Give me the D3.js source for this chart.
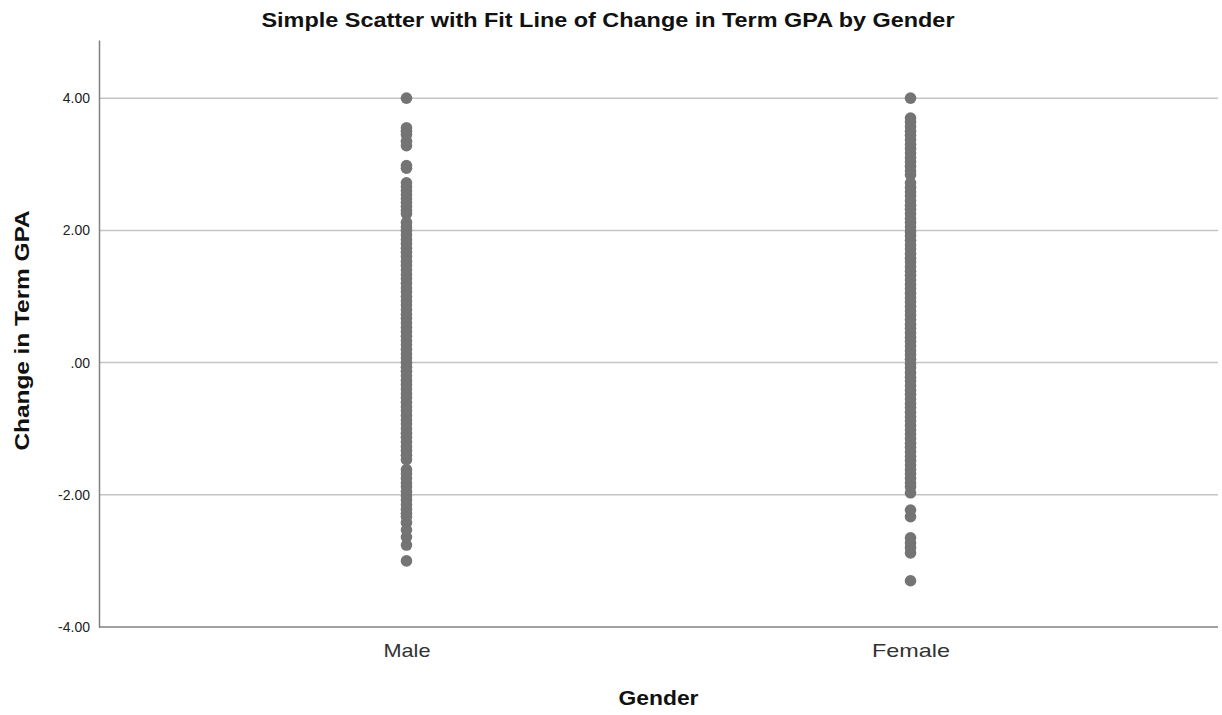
<!DOCTYPE html>
<html>
<head>
<meta charset="utf-8">
<script src="https://cdn.jsdelivr.net/npm/d3@7"></script>
<style>
  body { margin: 0; background: #fff; }
  svg { display: block; font-family: "Liberation Sans", Arial, sans-serif; }
</style>
</head>
<body>
<svg id="chart" width="1222" height="715"></svg>
<script>
const categories = ["Male", "Female"]

const maleValues = [
  4.00,
  3.55, 3.50, 3.45, 3.35, 3.28,
  2.98, 2.94,
  2.72, 2.66, 2.60, 2.54, 2.48, 2.42, 2.36, 2.30, 2.25, 2.12,
  2.05, 2.00, 1.93, 1.86, 1.80, 1.73, 1.67, 1.60, 1.53, 1.47, 1.40, 1.33, 1.27, 1.20,
  1.13, 1.07, 1.00, 0.93, 0.87, 0.80, 0.73, 0.67, 0.60, 0.53, 0.47, 0.40, 0.33, 0.27,
  0.20, 0.13, 0.07, 0.00, -0.07, -0.13, -0.20, -0.27, -0.33, -0.40, -0.47, -0.53,
  -0.60, -0.67, -0.73, -0.80, -0.87, -0.93, -1.00, -1.07, -1.13, -1.20, -1.27, -1.33,
  -1.40, -1.47,
  -1.62, -1.68, -1.75, -1.82, -1.88, -1.95, -2.02, -2.08, -2.15, -2.22, -2.28, -2.33,
  -2.42, -2.53, -2.64, -2.76,
  -3.00
]

const femaleValues = [
  4.00,
  3.70, 3.64, 3.57, 3.50, 3.44, 3.37, 3.30, 3.24, 3.17, 3.10, 3.04, 2.97, 2.90, 2.84,
  2.72, 2.65, 2.58, 2.52, 2.45, 2.38, 2.32, 2.25, 2.18, 2.12,
  2.05, 1.98, 1.92, 1.85, 1.78, 1.72, 1.65, 1.58, 1.52, 1.45, 1.38, 1.32, 1.25, 1.18,
  1.12, 1.05, 0.98, 0.92, 0.85, 0.78, 0.72, 0.65, 0.58, 0.52, 0.45, 0.38, 0.32, 0.25,
  0.18, 0.12, 0.05, -0.02, -0.08, -0.15, -0.22, -0.28, -0.35, -0.42, -0.48, -0.55,
  -0.62, -0.68, -0.75, -0.82, -0.88, -0.95, -1.02, -1.08, -1.15, -1.22, -1.28, -1.35,
  -1.42, -1.48, -1.55, -1.62, -1.68, -1.75, -1.82, -1.88, -1.97,
  -2.23, -2.33,
  -2.65, -2.73, -2.80, -2.88,
  -3.30
]

const yTicks = [4, 2, 0, -2, -4]
const yTickLabels = ["4.00", "2.00", ".00", "-2.00", "-4.00"]

const margin = { top: 40, right: 4, bottom: 88, left: 99 }
const width = 1222
const height = 715

const svg = d3.select("#chart")

const x = d3.scalePoint()
  .domain(categories)
  .range([margin.left, width - margin.right])
  .padding(0.61)

const y = d3.scaleLinear()
  .domain([-4, 4.88])
  .range([height - margin.bottom, margin.top])

// grid lines
svg.append("g")
  .selectAll("line")
  .data(yTicks.filter(d => d !== -4))
  .join("line")
    .attr("x1", margin.left)
    .attr("x2", width - margin.right)
    .attr("y1", d => y(d))
    .attr("y2", d => y(d))
    .attr("stroke", "#c4c4c4")
    .attr("stroke-width", 1.5)

// y axis
const yAxis = d3.axisLeft(y)
  .tickValues(yTicks)
  .tickFormat((d, i) => yTickLabels[i])
  .tickSize(0)
  .tickPadding(9)

svg.append("g")
    .attr("transform", `translate(${margin.left},0)`)
    .call(yAxis)
    .call(g => g.select(".domain").attr("stroke", "#808080").attr("stroke-width", 1.5))
    .call(g => g.selectAll("text")
      .attr("font-size", 14)
      .attr("fill", "#222")
      .attr("font-family", "\"Liberation Sans\", Arial, sans-serif"))

// x axis
const xAxis = d3.axisBottom(x).tickSize(0).tickPadding(17)

svg.append("g")
    .attr("transform", `translate(0,${height - margin.bottom})`)
    .call(xAxis)
    .call(g => g.select(".domain").attr("stroke", "#808080").attr("stroke-width", 1.5)
      .attr("d", `M${margin.left},0H${width - margin.right}`))
    .call(g => g.selectAll("text")
      .attr("font-size", 19)
      .attr("fill", "#333")
      .attr("textLength", d => d === "Male" ? 47 : 78)
      .attr("lengthAdjust", "spacingAndGlyphs")
      .attr("font-family", "\"Liberation Sans\", Arial, sans-serif"))

// points
const points = [
  ...maleValues.map(v => ({ cat: "Male", v })),
  ...femaleValues.map(v => ({ cat: "Female", v }))
]

svg.append("g")
  .selectAll("circle")
  .data(points)
  .join("circle")
    .attr("cx", d => x(d.cat))
    .attr("cy", d => y(d.v))
    .attr("r", 5.8)
    .attr("fill", "#747474")

// title
svg.append("text")
    .attr("x", 608)
    .attr("y", 27)
    .attr("text-anchor", "middle")
    .attr("font-size", 20)
    .attr("font-weight", "bold")
    .attr("fill", "#111")
    .attr("textLength", 693)
    .attr("lengthAdjust", "spacingAndGlyphs")
    .text("Simple Scatter with Fit Line of Change in Term GPA by Gender")

// axis titles
svg.append("text")
    .attr("x", (margin.left + width - margin.right) / 2)
    .attr("y", 705)
    .attr("text-anchor", "middle")
    .attr("font-size", 21)
    .attr("font-weight", "bold")
    .attr("fill", "#111")
    .attr("textLength", 80)
    .attr("lengthAdjust", "spacingAndGlyphs")
    .text("Gender")

svg.append("text")
    .attr("transform", `translate(29,${(margin.top + height - margin.bottom) / 2 - 3}) rotate(-90)`)
    .attr("text-anchor", "middle")
    .attr("font-size", 21)
    .attr("font-weight", "bold")
    .attr("fill", "#111")
    .attr("textLength", 240)
    .attr("lengthAdjust", "spacingAndGlyphs")
    .text("Change in Term GPA")
</script>
</body>
</html>
